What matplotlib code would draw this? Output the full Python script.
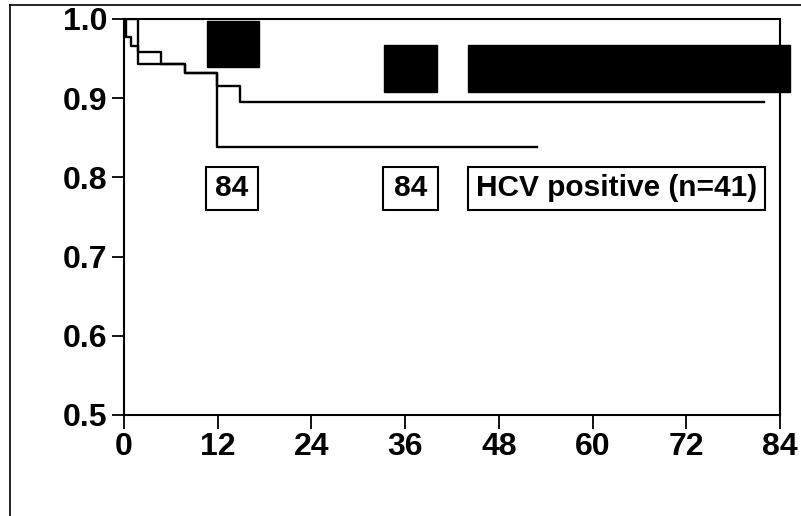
import matplotlib
matplotlib.use("Agg")
import matplotlib.pyplot as plt
from matplotlib.patches import Rectangle
from matplotlib.lines import Line2D

# ---- data ----
lower_t = [0, 0.2, 0.9, 1.73, 7.8, 11.87, 52.9]
lower_s = [1.0, 0.977, 0.966, 0.943, 0.932, 0.838, 0.838]

upper_t = [0, 1.73, 4.74, 7.8, 11.87, 14.85, 82.0]
upper_s = [1.0, 0.958, 0.943, 0.932, 0.915, 0.895, 0.895]

x_ticks = [0, 12, 24, 36, 48, 60, 72, 84]
y_ticks = [0.5, 0.6, 0.7, 0.8, 0.9, 1.0]

box_labels = ["84", "84", "HCV positive (n=41)"]

plt.rcParams['font.family'] = ['Liberation Sans', 'DejaVu Sans']

fig = plt.figure(figsize=(8.01, 5.16), dpi=100)
ax = fig.add_axes([124/801, 1-415/516, 656/801, 396/516])

ax.step(upper_t, upper_s, where='post', color='black', lw=1.7)
ax.step(lower_t, lower_s, where='post', color='black', lw=1.7)

ax.set_xlim(0, 84)
ax.set_ylim(0.5, 1.0)
ax.set_xticks(x_ticks)
ax.set_yticks(y_ticks)
ax.set_xticklabels([str(v) for v in x_ticks], fontsize=23, fontweight='bold')
ax.set_yticklabels([f"{v:.1f}" for v in y_ticks], fontsize=23, fontweight='bold')
ax.tick_params(axis='y', direction='out', length=9, width=1.3, pad=3)
ax.tick_params(axis='x', direction='out', length=10, width=1.3, pad=2)
for s in ax.spines.values():
    s.set_linewidth(1.5)
    s.set_color('black')

# redacted (black) label blocks
blk = dict(facecolor='black', edgecolor='black', clip_on=False, zorder=5)
ax.add_patch(Rectangle((10.63, 0.9394), 17.29-10.63, 0.9975-0.9394, **blk))
ax.add_patch(Rectangle((33.29, 0.908), 40.08-33.29, 0.967-0.908, **blk))
ax.add_patch(Rectangle((44.05, 0.908), 85.28-44.05, 0.967-0.908, **blk))

# label boxes
boxes = [(10.5, 17.16), (33.16, 40.2), (44.05, 82.08)]
for (x0, x1), lab in zip(boxes, box_labels):
    ax.add_patch(Rectangle((x0, 0.759), x1-x0, 0.813-0.759, facecolor='white',
                           edgecolor='black', lw=1.5, zorder=4))
    ax.text((x0+x1)/2, 0.786, lab, ha='center', va='center', fontsize=21.5,
            fontweight='bold', zorder=6)

# scan frame lines
fig.add_artist(Line2D([10/801, 10/801], [0, 1-5/516], color='black', lw=1.2))
fig.add_artist(Line2D([10/801, 1], [1-5/516, 1-5/516], color='black', lw=1.2))

fig.savefig("out.png", dpi=100)
